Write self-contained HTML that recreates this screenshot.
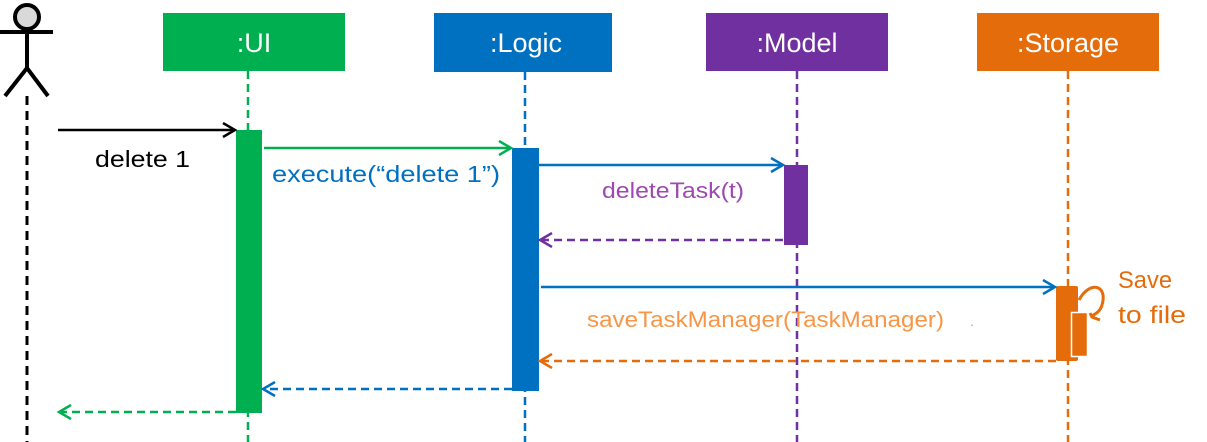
<!DOCTYPE html>
<html><head><style>body{margin:0;background:#fff}svg{display:block}text{font-family:"Liberation Sans",sans-serif}</style></head><body>
<svg width="1207" height="442" viewBox="0 0 1207 442" xmlns="http://www.w3.org/2000/svg">
<defs>
<marker id="a" markerWidth="16" markerHeight="16" refX="13" refY="8" orient="auto" markerUnits="userSpaceOnUse"><path d="M1,1 L13,8 L1,15" fill="none" stroke="context-stroke" stroke-width="2.5"/></marker>
</defs>
<!-- actor -->
<circle cx="27" cy="17" r="12" fill="#d9d9d9" stroke="#000" stroke-width="4"/>
<line x1="0" y1="32" x2="53" y2="32" stroke="#000" stroke-width="4"/>
<line x1="27" y1="29" x2="27" y2="68" stroke="#000" stroke-width="4"/>
<polyline points="5,96 27,68 48,96" fill="none" stroke="#000" stroke-width="4"/>
<line x1="27" y1="96" x2="27" y2="442" stroke="#000" stroke-width="3" stroke-dasharray="9,6"/>
<!-- boxes -->
<rect x="163" y="13" width="182" height="58" fill="#00b050"/><text x="254" y="52" font-size="27" fill="#fff" text-anchor="middle">:UI</text>
<rect x="434" y="13" width="178" height="59" fill="#0070c0"/><text x="526" y="52" font-size="27" fill="#fff" text-anchor="middle">:Logic</text>
<rect x="706" y="13" width="182" height="58" fill="#7030a0"/><text x="797" y="52" font-size="27" fill="#fff" text-anchor="middle">:Model</text>
<rect x="977" y="13" width="182" height="58" fill="#e46c0a"/><text x="1068" y="52" font-size="27" fill="#fff" text-anchor="middle">:Storage</text>
<!-- lifelines -->
<line x1="248" y1="71" x2="248" y2="442" stroke="#00b050" stroke-width="2.5" stroke-dasharray="8,5"/>
<line x1="525" y1="72" x2="525" y2="442" stroke="#0070c0" stroke-width="2.5" stroke-dasharray="8,5"/>
<line x1="797" y1="71" x2="797" y2="442" stroke="#7030a0" stroke-width="2.5" stroke-dasharray="8,5"/>
<line x1="1068" y1="71" x2="1068" y2="442" stroke="#e46c0a" stroke-width="2.5" stroke-dasharray="8,5"/>
<!-- activations -->
<rect x="236" y="130" width="26" height="283" fill="#00b050"/>
<rect x="512" y="148" width="27" height="243" fill="#0070c0"/>
<rect x="784" y="165" width="24" height="80" fill="#7030a0"/>
<rect x="1056" y="286" width="22" height="75" rx="2" fill="#e46c0a"/>
<rect x="1071.5" y="312.5" width="16" height="44" fill="#e46c0a" stroke="#fff" stroke-width="1.5"/>
<path d="M1079,300 C1090,280 1108,285 1102,305 C1100,312 1095,314 1092,316" fill="none" stroke="#e46c0a" stroke-width="3"/>
<path d="M1090,313 L1092,317 L1100,320" fill="none" stroke="#e46c0a" stroke-width="3"/>
<!-- messages -->
<line x1="58" y1="130" x2="235" y2="130" stroke="#000" stroke-width="2.5" marker-end="url(#a)"/>
<text x="95" y="167" font-size="23" fill="#000" textLength="95" lengthAdjust="spacingAndGlyphs">delete 1</text>
<line x1="264" y1="148" x2="511" y2="148" stroke="#00b050" stroke-width="2.5" marker-end="url(#a)"/>
<text x="272" y="182" font-size="23" fill="#0070c0" textLength="228" lengthAdjust="spacingAndGlyphs">execute(“delete 1”)</text>
<line x1="539" y1="165" x2="783" y2="165" stroke="#0070c0" stroke-width="2.5" marker-end="url(#a)"/>
<text x="602" y="198" font-size="22" fill="#9e48b0" textLength="142" lengthAdjust="spacingAndGlyphs">deleteTask(t)</text>
<line x1="783" y1="240" x2="540" y2="240" stroke="#7030a0" stroke-width="2.5" stroke-dasharray="8,5" marker-end="url(#a)"/>
<line x1="541" y1="287" x2="1055" y2="287" stroke="#0070c0" stroke-width="2.5" marker-end="url(#a)"/>
<text x="587" y="327" font-size="22" fill="#f79646" textLength="357" lengthAdjust="spacingAndGlyphs">saveTaskManager(TaskManager)</text>
<text x="970" y="326" font-size="14" fill="#f79646">.</text>
<line x1="1056" y1="361" x2="540" y2="361" stroke="#e46c0a" stroke-width="2.5" stroke-dasharray="8,5" marker-end="url(#a)"/>
<line x1="512" y1="389" x2="263" y2="389" stroke="#0070c0" stroke-width="2.5" stroke-dasharray="8,5" marker-end="url(#a)"/>
<line x1="236" y1="412" x2="59" y2="412" stroke="#00b050" stroke-width="2.5" stroke-dasharray="8,5" marker-end="url(#a)"/>
<text x="1118" y="288" font-size="24" fill="#e46c0a" textLength="54" lengthAdjust="spacingAndGlyphs">Save</text>
<text x="1118" y="323" font-size="24" fill="#e46c0a" textLength="68" lengthAdjust="spacingAndGlyphs">to file</text>
</svg>
</body></html>
